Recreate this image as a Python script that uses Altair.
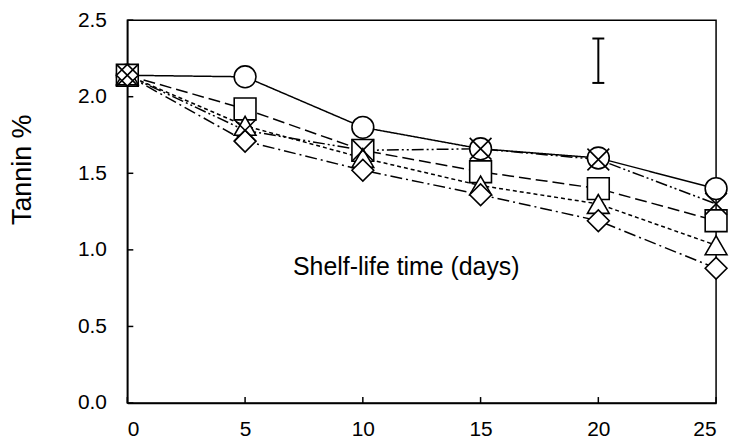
import altair as alt
import pandas as pd

days = [0, 5, 10, 15, 20, 25]
circle_vals = [2.14, 2.13, 1.80, 1.66, 1.60, 1.40]
cross_vals = [2.14, 1.78, 1.65, 1.66, 1.59, 1.30]
square_vals = [2.14, 1.92, 1.65, 1.51, 1.40, 1.19]
triangle_vals = [2.14, 1.81, 1.60, 1.42, 1.30, 1.03]
diamond_vals = [2.14, 1.71, 1.52, 1.36, 1.19, 0.88]
series_names = ["circle", "square", "triangle", "diamond", "cross"]
series_vals = [circle_vals, square_vals, triangle_vals, diamond_vals, cross_vals]

err_day = [20]
err_low = [2.09]
err_high = [2.38]

x_ticks = [0, 5, 10, 15, 20, 25]
y_ticks = [0.0, 0.5, 1.0, 1.5, 2.0, 2.5]

rows = []
for order, (name, vals) in enumerate(zip(series_names, series_vals)):
    for d, v in zip(days, vals):
        rows.append({"series": name, "day": d, "tannin": v, "order": order})
df = pd.DataFrame(rows)
err_df = pd.DataFrame({"day": err_day, "low": err_low, "high": err_high})
xt_df = pd.DataFrame({"day": x_ticks, "base": [0.0] * len(x_ticks)})
yt_df = pd.DataFrame({"tannin": y_ticks, "base": [0] * len(y_ticks)})

W, H = 592, 385
FONT = "Liberation Sans"
TICK_FS = 21

shape_range = ["circle", "square", "triangle-up", "diamond", "M-1,-1L1,1M-1,1L1,-1"]
dash_range = [[1, 0], [12, 5], [4, 3], [12, 4, 2, 4], [12, 3, 2, 3, 2, 3]]

xscale = alt.Scale(domain=[0, 25], nice=False, zero=False)
yscale = alt.Scale(domain=[0, 2.5], nice=False)

x_main = alt.X("day:Q", scale=xscale,
               axis=alt.Axis(values=x_ticks, ticks=False, labelPadding=16,
                             labelFontSize=TICK_FS,
                             title="Shelf-life time (days)", titleFontSize=25,
                             titleFontWeight="normal", titleFont=FONT,
                             titleX=280, titleY=-137, titleBaseline="middle",
                             titleAlign="center"))
y_main = alt.Y("tannin:Q", scale=yscale,
               axis=alt.Axis(values=y_ticks, format=".1f", ticks=False,
                             labelPadding=21, labelFontSize=TICK_FS,
                             title="Tannin %", titleFontSize=27,
                             titleFontWeight="normal", titleFont=FONT,
                             titleX=-105, titleY=150, titleAngle=-90,
                             titleBaseline="middle", titleAlign="center"))

lines = alt.Chart(df).mark_line(color="black", strokeWidth=1.5).encode(
    x=x_main,
    y=y_main,
    strokeDash=alt.StrokeDash("series:N", scale=alt.Scale(domain=series_names, range=dash_range), legend=None),
    detail="series:N",
    order="day:Q",
)

points = alt.Chart(df).mark_point(filled=True, fill="white", stroke="black",
                                  strokeWidth=1.6, size=480, opacity=1).encode(
    x=alt.X("day:Q", scale=xscale),
    y=alt.Y("tannin:Q", scale=yscale),
    shape=alt.Shape("series:N", scale=alt.Scale(domain=series_names, range=shape_range), legend=None),
    order="order:Q",
)

err_rule = alt.Chart(err_df).mark_rule(color="black", strokeWidth=2).encode(
    x=alt.X("day:Q", scale=xscale),
    y=alt.Y("low:Q", scale=yscale),
    y2="high:Q",
)
err_cap_low = alt.Chart(err_df).mark_tick(color="black", orient="horizontal",
                                          size=12, thickness=2, opacity=1).encode(
    x=alt.X("day:Q", scale=xscale),
    y=alt.Y("low:Q", scale=yscale),
)
err_cap_high = alt.Chart(err_df).mark_tick(color="black", orient="horizontal",
                                           size=12, thickness=2, opacity=1).encode(
    x=alt.X("day:Q", scale=xscale),
    y=alt.Y("high:Q", scale=yscale),
)

# inward tick marks along the bottom and left axes
x_inticks = alt.Chart(xt_df).mark_tick(color="black", orient="vertical", size=6,
                                       thickness=1.5, opacity=1, yOffset=-3).encode(
    x=alt.X("day:Q", scale=xscale),
    y=alt.Y("base:Q", scale=yscale),
)
y_inticks = alt.Chart(yt_df).mark_tick(color="black", orient="horizontal", size=6,
                                       thickness=1.5, opacity=1, xOffset=3).encode(
    x=alt.X("base:Q", scale=xscale),
    y=alt.Y("tannin:Q", scale=yscale),
)

chart = alt.layer(lines, x_inticks, y_inticks, points, err_rule, err_cap_low, err_cap_high).properties(
    width=W, height=H,
    autosize=alt.AutoSizeParams(type="none"),
    padding={"left": 120, "top": 11, "right": 14, "bottom": 39},
).configure_view(
    stroke="black", strokeWidth=1.5
).configure_axis(
    grid=False, domainColor="black", domainWidth=1.5,
    labelColor="black", titleColor="black", labelFont=FONT, titleFont=FONT,
)

chart.save("out.html", embed_options={"renderer": "svg", "actions": False})
